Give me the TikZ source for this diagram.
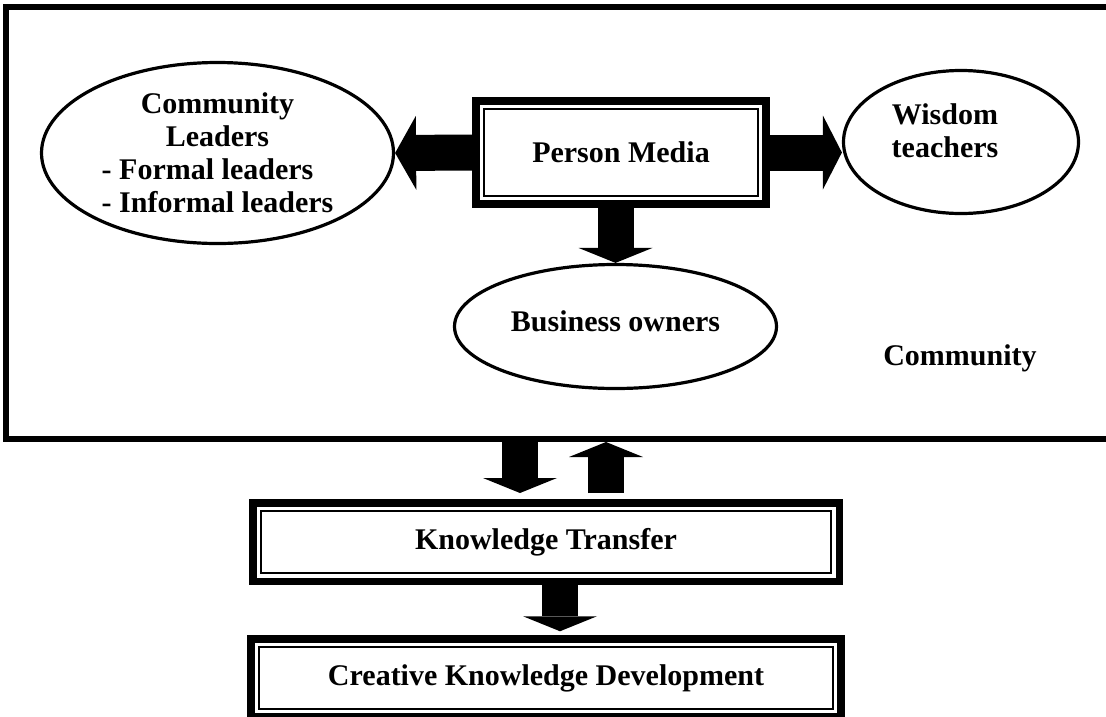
\documentclass[tikz,border=0pt]{standalone}
\usepackage{fontspec}
\setmainfont{Liberation Serif}
\usetikzlibrary{arrows.meta,shapes.geometric}

\begin{document}
\begin{tikzpicture}[x=1pt, y=-1pt,
    font=\fontsize{30}{33}\selectfont\bfseries,
    bubble/.style={ellipse, draw, line width=3.2pt, inner sep=0pt, align=center},
    dblbox/.style={draw, line width=7.5pt, inner sep=0pt,
        path picture={\draw[line width=1.8pt]
            ([shift={(8pt,-8pt)}]path picture bounding box.north west) rectangle
            ([shift={(-8pt,8pt)}]path picture bounding box.south east);}},
    fat/.style={line width=36pt, -{Triangle[width=74pt, length=#1, line width=0pt]}},
    fat/.default=15pt
]

    \useasboundingbox (0,0) rectangle (1106,716);

    % community frame
    \node[draw, line width=6pt, minimum width=1119pt, minimum height=432pt] (community) at (565.5,223) {};
    \node (communitylabel) at (960,358) {Community};

    % person media and the groups around it
    \node[dblbox, minimum width=290pt, minimum height=103pt] (media) at (621,152.5) {Person Media};
    \node[bubble, minimum width=352pt, minimum height=181pt] (leaders) at (217.5,153)
        {Community\\Leaders\\\makebox[0pt][l]{- Formal leaders}\phantom{- Informal leaders}\\- Informal leaders};
    \node[bubble, minimum width=235pt, minimum height=143pt] (wisdom) at (961,142) {};
    \node[align=center] (wisdomtext) at ([shift={(-16,-11)}]wisdom.center) {Wisdom\\teachers};
    \node[bubble, text depth=10pt, minimum width=322pt, minimum height=124pt] (owners) at (615.5,326.5) {Business owners};

    % transfer and development
    \node[dblbox, minimum width=586.5pt, minimum height=78.5pt] (transfer) at (546,542) {Knowledge Transfer};
    \node[dblbox, minimum width=590pt, minimum height=78pt] (creative) at (546,678) {Creative Knowledge Development};

    % block arrows
    \draw[fat=21pt] (media.west) -- (leaders.east);
    \draw[fat=19pt] (media.east) -- (media.east -| wisdom.west);
    \draw[fat] (media.south -| owners.north) -- (owners.north);
    \draw[fat] ([xshift=-26pt]transfer.north |- community.south) -- ([xshift=-26pt,yshift=6pt]transfer.north);
    \draw[fat] ([xshift=60pt,yshift=6pt]transfer.north) -- ([xshift=60pt]transfer.north |- community.south);
    \draw[fat] ([xshift=14pt]transfer.south) -- ([xshift=14pt,yshift=4pt]creative.north);

\end{tikzpicture}
\end{document}
